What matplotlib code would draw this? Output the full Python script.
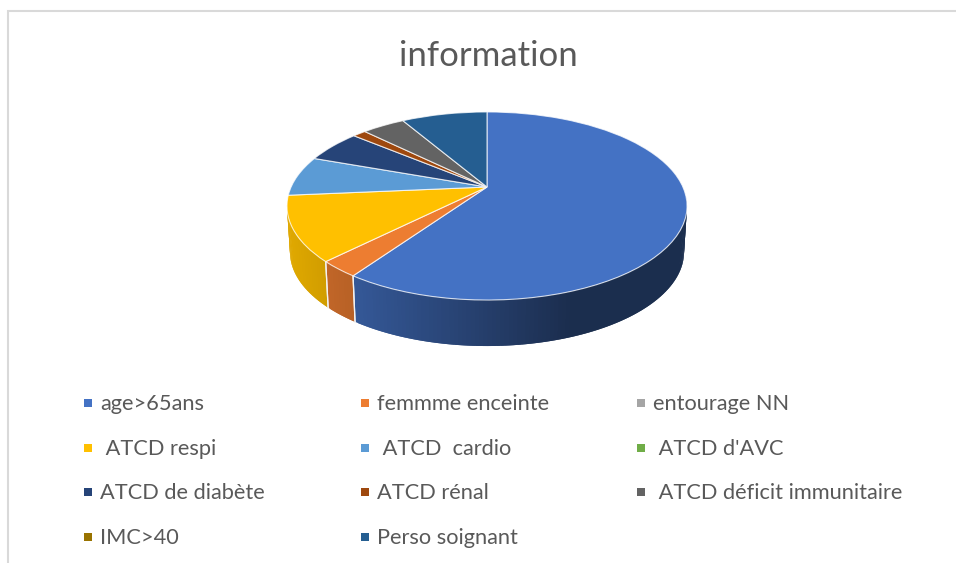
import numpy as np
import matplotlib
matplotlib.use("Agg")
import matplotlib.pyplot as plt
from matplotlib.transforms import Transform

plt.rcParams['font.family'] = ['Lato', 'DejaVu Sans']

# values (share of the pie, %)
labels = ["age>65ans", "femmme enceinte", "entourage NN",
          " ATCD respi", " ATCD  cardio", " ATCD d'AVC",
          "ATCD de diabète", "ATCD rénal", " ATCD déficit immunitaire",
          "IMC>40", "Perso soignant"]
values = [59.6, 2.8, 0, 11.1, 6.9, 0, 5.6, 1.3, 4.2, 0, 8.4]
colors = ["#4472C4", "#ED7D31", "#A5A5A5", "#FFC000", "#5B9BD5", "#70AD47",
          "#264478", "#9E480E", "#636363", "#997300", "#255E91"]
title = "information"

# the tilted disc, in pixels
CX, CY = 487, 187
SX, SY = 195.9, 90.2
K = 0.202
DEPTH = 46
TEXT = "#595959"


class Tilt(Transform):
    # perspective view of the unit circle
    input_dims = 2
    output_dims = 2

    def transform_non_affine(self, xy):
        xy = np.asarray(xy, dtype=float)
        w = 1 + K * xy[:, 1]
        return np.column_stack((CX + SX * xy[:, 0] / w, CY - SY * xy[:, 1] / w))


tilt = Tilt()


def rim(theta):
    t = np.radians(theta)
    return tilt.transform_non_affine(np.column_stack((np.cos(t), np.sin(t))))


def low(points):
    # same rim, lower down: bottom edge of the wall
    return np.column_stack((CX + (points[:, 0] - CX) * 0.985, points[:, 1] + DEPTH))


def shade(x):
    return np.interp(x, [287, 355, 570, 688], [0.88, 0.77, 0.40, 0.40])


fig = plt.figure(figsize=(9.56, 5.63), dpi=100)
ax = fig.add_axes([0, 0, 1, 1])

wedges, _ = ax.pie(values, colors=colors, startangle=90, counterclock=False,
                   wedgeprops=dict(edgecolor=(1, 1, 1, 0.75), linewidth=0.8))
ax.set_aspect("auto")
ax.set_xlim(0, 956)
ax.set_ylim(563, 0)
ax.axis("off")

for w, c in zip(wedges, colors):
    w.set_transform(tilt + ax.transData)
    if w.theta2 - w.theta1 < 0.01:
        w.set_visible(False)
        continue
    # wall of the slice, only the front part shows
    t1, t2 = w.theta1, w.theta2
    thetas = np.arange(t1, t2 + 1, 1.0)
    thetas[-1] = t2
    top = rim(thetas)
    bottom = low(top)
    base = np.array(matplotlib.colors.to_rgb(c))
    for i in range(len(thetas) - 1):
        if np.sin(np.radians(thetas[i])) > -0.15 and np.sin(np.radians(thetas[i + 1])) > -0.15:
            continue
        # each strip runs over the next one so no seams show
        quad = np.vstack((top[i:i + 3], bottom[i:i + 3][::-1]))
        col = base * shade(quad[:2, 0].mean())
        ax.fill(quad[:, 0], quad[:, 1], color=col, lw=0, zorder=0.5)
    # light seam where two walls meet
    for t in (t1, t2):
        p = rim(np.array([t]))
        if np.sin(np.radians(t)) < -0.3:
            q = low(p)
            ax.plot([p[0, 0], q[0, 0]], [p[0, 1], q[0, 1]],
                    color="#F2F2F2", lw=0.9, zorder=0.6)

ax.text(488, 56.5, title, color=TEXT, fontsize=25, ha="center", va="center")

# legend, row by row
col_x = [88, 365, 641]
row_y = [403, 448, 492, 537]
for i, (lab, c) in enumerate(zip(labels, colors)):
    x = col_x[i % 3]
    y = row_y[i // 3]
    ax.scatter([x], [y], marker="s", s=30, color=c, linewidths=0)
    ax.text(x + 12, y + 1, lab, color=TEXT, fontsize=15.7, ha="left", va="center")

# frame of the screenshot
ax.plot([8, 8, 956], [563, 11, 11], color="#D9D9D9", lw=1.5, solid_joinstyle="miter")

fig.savefig("out.png", dpi=100)
